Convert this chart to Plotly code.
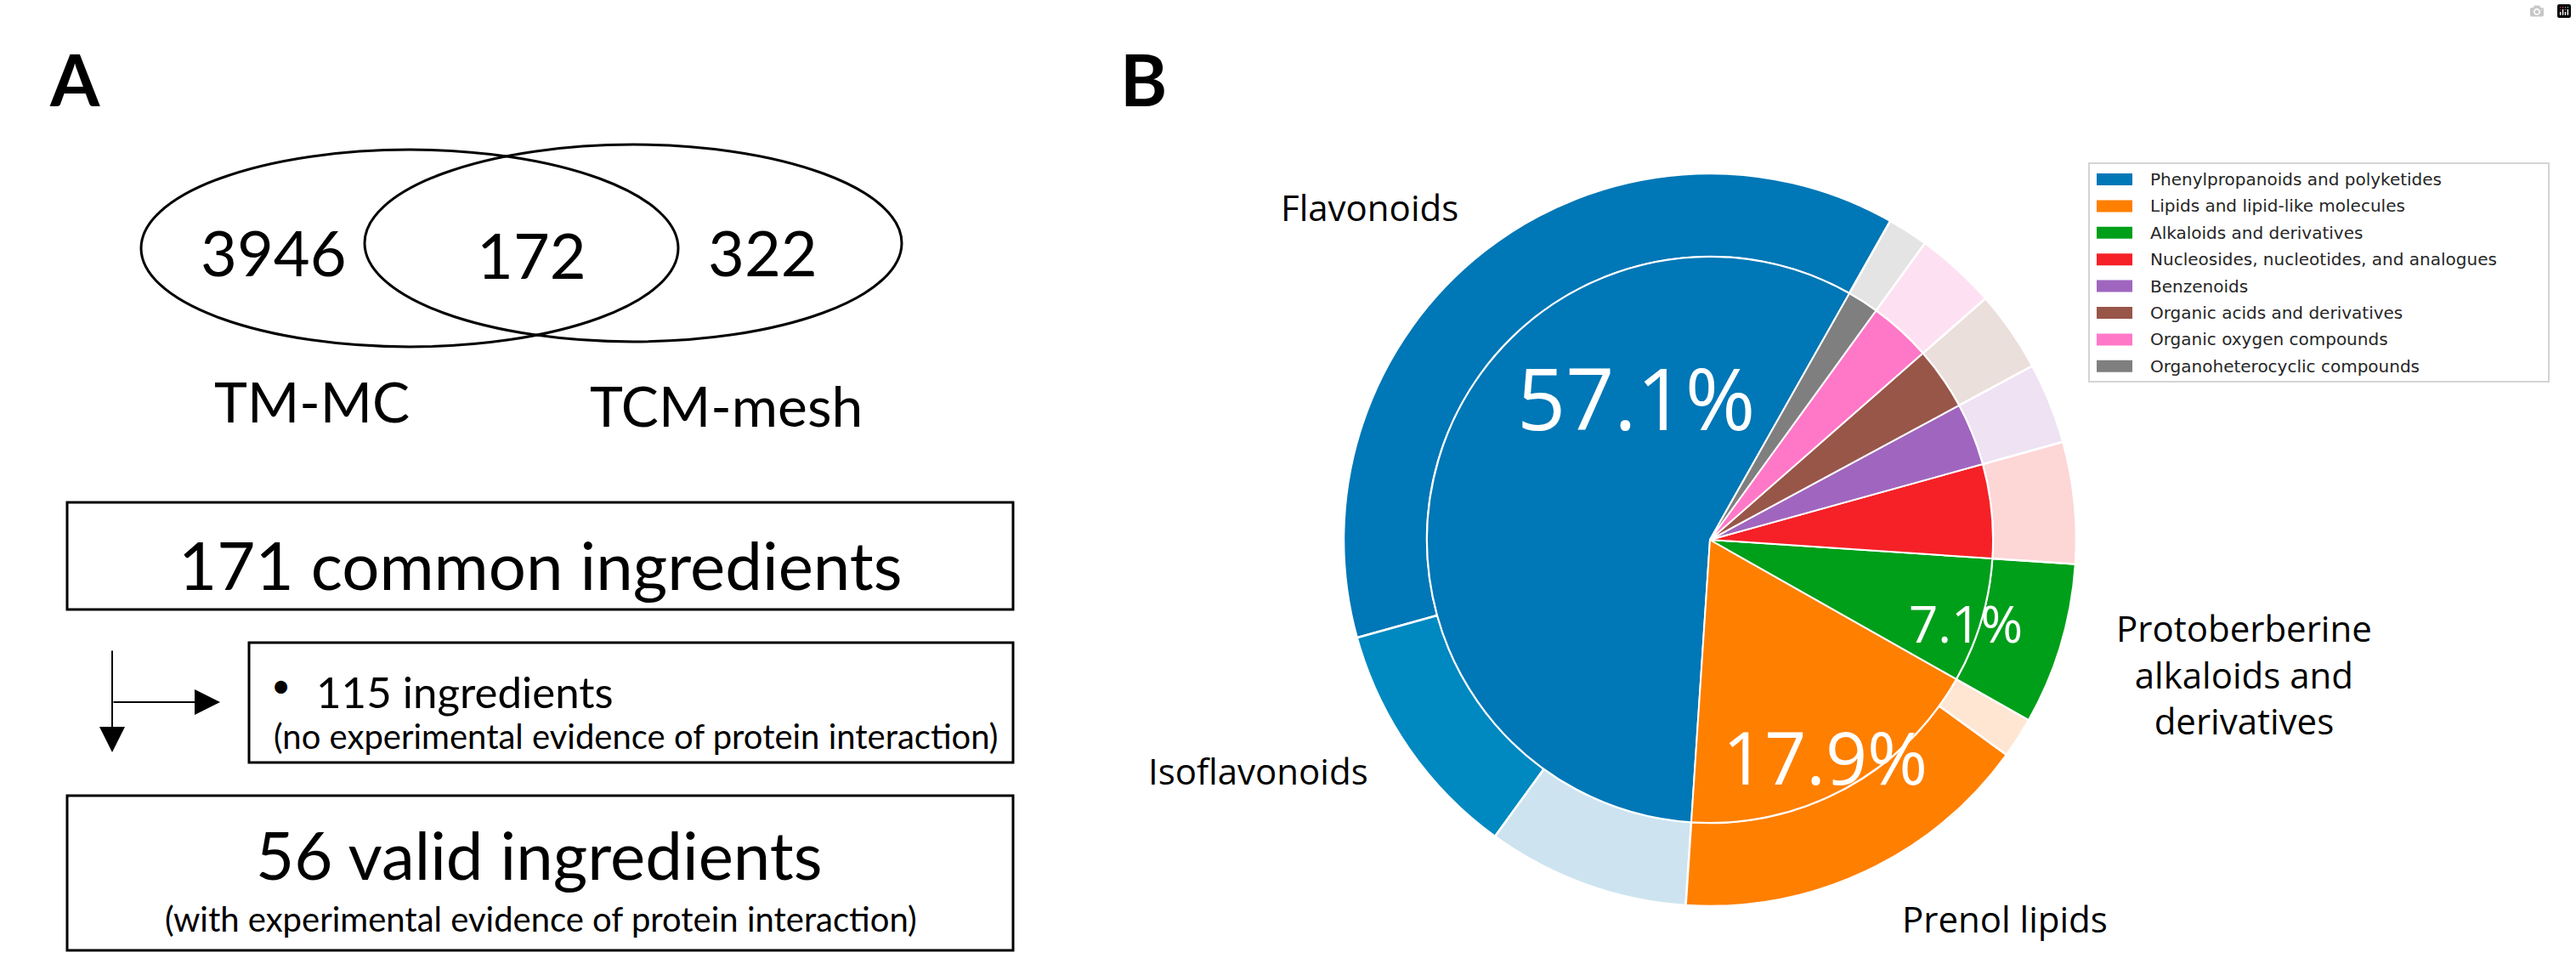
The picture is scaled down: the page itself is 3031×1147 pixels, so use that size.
import plotly.graph_objects as go

W, H = 3031, 1147

# ---------------- Panel A data ----------------
venn_set_names = ["TM-MC", "TCM-mesh"]
venn_counts = [3946, 172, 322]          # only TM-MC, both, only TCM-mesh
common_ingredients = 171
excluded_ingredients = 115
valid_ingredients = 56

# ---------------- Panel B data ----------------
class_names = [
    "Phenylpropanoids and polyketides",
    "Lipids and lipid-like molecules",
    "Alkaloids and derivatives",
    "Nucleosides, nucleotides, and analogues",
    "Benzenoids",
    "Organic acids and derivatives",
    "Organic oxygen compounds",
    "Organoheterocyclic compounds",
]
class_counts = [32, 10, 4, 3, 2, 2, 2, 1]
class_colors = ["#0077b6", "#ff7f00", "#009f1a", "#f52127",
                "#a066bf", "#985649", "#ff78c8", "#7f7f7f"]

sub_names = [
    "Flavonoids", "Isoflavonoids", "Other phenylpropanoids",
    "Prenol lipids", "Other lipids",
    "Protoberberine alkaloids and derivatives",
    "Other nucleosides", "Other benzenoids", "Other organic acids",
    "Other organic oxygen compounds", "Other organoheterocyclic compounds",
]
sub_counts = [21, 6, 5, 9, 1, 4, 3, 2, 2, 2, 1]
sub_colors = ["#0077b6", "#0088c0", "#cde4f0", "#ff7f00", "#fee6d2",
              "#009f1a", "#fdd6d6", "#eee2f3", "#ebdfdb", "#fde1f2", "#e4e4e4"]

sub_label_text = {
    "Flavonoids": "Flavonoids",
    "Isoflavonoids": "Isoflavonoids",
    "Prenol lipids": "Prenol lipids",
    "Protoberberine alkaloids and derivatives": "Protoberberine<br>alkaloids and<br>derivatives",
}


def px(x):
    return x / W


def py(y):
    return 1 - y / H


FONT_A = "Lato"
FONT_B = "Open Sans"

# start angle of the first slice (degrees clockwise from 12 o'clock);
# plotly's counterclockwise mode places the first slice *before* `rotation`,
# so shift by the angular size of the first slice.
START = 29.5


def rot_for(vals):
    return START - 360.0 * vals[0] / sum(vals)


fig = go.Figure()

cx, cy, R_out, R_in = 2012, 635, 431, 333
fig.add_trace(go.Pie(
    values=sub_counts, labels=sub_names, sort=False,
    direction="counterclockwise", rotation=rot_for(sub_counts),
    hole=R_in / R_out,
    marker=dict(colors=sub_colors, line=dict(color="white", width=2.5)),
    textinfo="none", showlegend=False,
    domain=dict(x=[px(cx - R_out), px(cx + R_out)],
                y=[py(cy + R_out), py(cy - R_out)]),
))
fig.add_trace(go.Pie(
    values=class_counts, labels=class_names, sort=False,
    direction="counterclockwise", rotation=rot_for(class_counts),
    marker=dict(colors=class_colors, line=dict(color="white", width=2)),
    textinfo="none", showlegend=False,
    domain=dict(x=[px(cx - R_in), px(cx + R_in)],
                y=[py(cy + R_in), py(cy - R_in)]),
))

annotations = []
shapes = []


def text(x, y, s, size, font=FONT_A, color="black", xa="center", ya="middle",
         weight="normal", align="center"):
    annotations.append(dict(
        x=px(x), y=py(y), xref="paper", yref="paper", text=s, showarrow=False,
        xanchor=xa, yanchor=ya, align=align,
        font=dict(family=font, size=size, color=color, weight=weight)))


def arrow(x_tip, y_tip, dx_tail, dy_tail):
    annotations.append(dict(x=px(x_tip), y=py(y_tip), xref="paper", yref="paper",
                            ax=dx_tail, ay=dy_tail, axref="pixel", ayref="pixel",
                            text="", showarrow=True, arrowhead=2, arrowsize=3,
                            arrowwidth=2, arrowcolor="black",
                            standoff=0, startstandoff=0))


# Panel letters
text(88, 92, "A", 84, weight="bold")
text(1345, 92, "B", 84, weight="bold")

# Venn ellipses
for (x0, y0, x1, y1) in [(166, 176, 798, 408), (429, 170, 1061, 402)]:
    shapes.append(dict(type="circle", xref="paper", yref="paper",
                       x0=px(x0), x1=px(x1), y0=py(y1), y1=py(y0),
                       line=dict(color="black", width=3)))

text(322, 296, str(venn_counts[0]), 74)
text(625, 300, str(venn_counts[1]), 74)
text(897, 296, str(venn_counts[2]), 74)
text(367, 472, venn_set_names[0], 66)
text(854, 476, venn_set_names[1], 66)

# Flow boxes
for (x0, y0, x1, y1) in [(79, 591, 1192, 717), (293, 756, 1192, 897),
                         (79, 936, 1192, 1118)]:
    shapes.append(dict(type="rect", xref="paper", yref="paper",
                       x0=px(x0), x1=px(x1), y0=py(y1), y1=py(y0),
                       line=dict(color="black", width=3)))

text(636, 664, f"{common_ingredients} common ingredients", 78)
text(330, 806, "•", 40)
text(370, 813, f"{excluded_ingredients} ingredients", 51, xa="left")
text(320, 866, "(no experimental evidence of protein interaction)", 40, xa="left")
text(634, 1005, f"{valid_ingredients} valid ingredients", 78)
text(636, 1081, "(with experimental evidence of protein interaction)", 40)

# flow arrows
arrow(132, 885, 0, -121)
arrow(259, 826, -127, 0)

# Percent labels (computed from class counts)
tot = sum(class_counts)
pct_pos = {0: (1925, 467, 100), 1: (2147, 889, 86), 2: (2313, 733, 60)}
for i, (x, y, s) in pct_pos.items():
    text(x, y, f"{class_counts[i] / tot * 100:.1f}%", s, font=FONT_B, color="white")

# Subclass labels
text(1611, 243, sub_label_text["Flavonoids"], 42, font=FONT_B)
text(1612, 906, sub_label_text["Isoflavonoids"], 42, font=FONT_B, xa="right")
text(2236, 1080, sub_label_text["Prenol lipids"], 42, font=FONT_B, xa="left")
text(2640, 793, sub_label_text["Protoberberine alkaloids and derivatives"], 42,
     font=FONT_B)

# Legend (manual, matplotlib style)
shapes.append(dict(type="rect", xref="paper", yref="paper",
                   x0=px(2458), x1=px(2999), y0=py(449), y1=py(192),
                   line=dict(color="#d4d4d4", width=2), fillcolor="white"))
for i, (name, col) in enumerate(zip(class_names, class_colors)):
    yc = 211 + 31.4 * i
    shapes.append(dict(type="rect", xref="paper", yref="paper",
                       x0=px(2467), x1=px(2509), y0=py(yc + 7), y1=py(yc - 7),
                       line=dict(width=0), fillcolor=col))
    text(2528, yc, name, 20, font="DejaVu Sans", color="#262626", xa="left")

fig.update_layout(
    width=W, height=H, margin=dict(l=0, r=0, t=0, b=0),
    paper_bgcolor="white", plot_bgcolor="white",
    annotations=annotations, shapes=shapes,
)

fig.write_html("out.html", post_script="document.body.style.margin='0';")
